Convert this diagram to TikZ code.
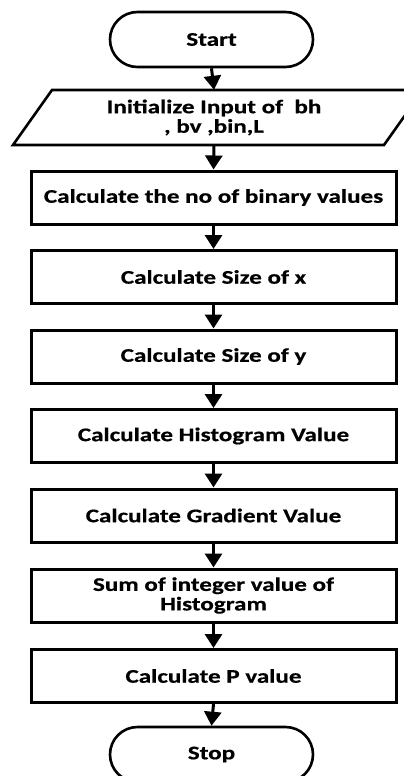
\documentclass[tikz,border=0pt]{standalone}
\usepackage{fontspec}
\setmainfont{Carlito}[FakeStretch=1.3,FakeBold=0.6]
\usetikzlibrary{arrows.meta,shapes.misc}
\begin{document}
\begin{tikzpicture}[x=1pt,y=-1pt,
  every node/.style={font=\fontsize{19.3}{19.5}\selectfont\bfseries, align=center, inner sep=0pt},
  procbox/.style={draw, line width=3pt, minimum width=365pt, minimum height=53pt},
  termbox/.style={draw, line width=2.6pt, rounded rectangle, minimum width=203pt, minimum height=55pt},
  flow/.style={line width=3pt, -{Triangle[width=17pt,length=14pt]}}
]
\useasboundingbox (0,0) rectangle (404,776);
\clip (0,0) rectangle (404,776);
\node[termbox] (start) at (211.5,39.5) {Start};
\draw[line width=2.6pt, line join=miter] (13,145) -- (52,90) -- (423,90) -- (384,145) -- cycle;
\node[minimum width=330pt, minimum height=55pt] (inp) at (214,117.5) {Initialize Input of~~bh\\, bv ,bin,L};
\node[procbox] (b1) at (213.5,197.5) {Calculate the no of binary values};
\node[procbox] (b2) at (213.5,277) {Calculate Size of x};
\node[procbox] (b3) at (213.5,356.5) {Calculate Size of y};
\node[procbox] (b4) at (213.5,436) {Calculate Histogram Value};
\node[procbox] (b5) at (213.5,515.5) {Calculate Gradient Value};
\node[procbox] (b6) at (213.5,595.5) {Sum of integer value of\\Histogram};
\node[procbox] (b7) at (213.5,676) {Calculate P value};
\node[termbox] (stop) at (211.5,754.5) {Stop};
\draw[flow] (start.south) -- (inp.north);
\draw[flow] (inp.south) -- (b1.north);
\draw[flow] (b1.south) -- (b2.north);
\draw[flow] (b2.south) -- (b3.north);
\draw[flow] (b3.south) -- (b4.north);
\draw[flow] (b4.south) -- (b5.north);
\draw[flow] (b5.south) -- (b6.north);
\draw[flow] (b6.south) -- (b7.north);
\draw[flow] (b7.south) -- (stop.north);
\end{tikzpicture}
\end{document}
